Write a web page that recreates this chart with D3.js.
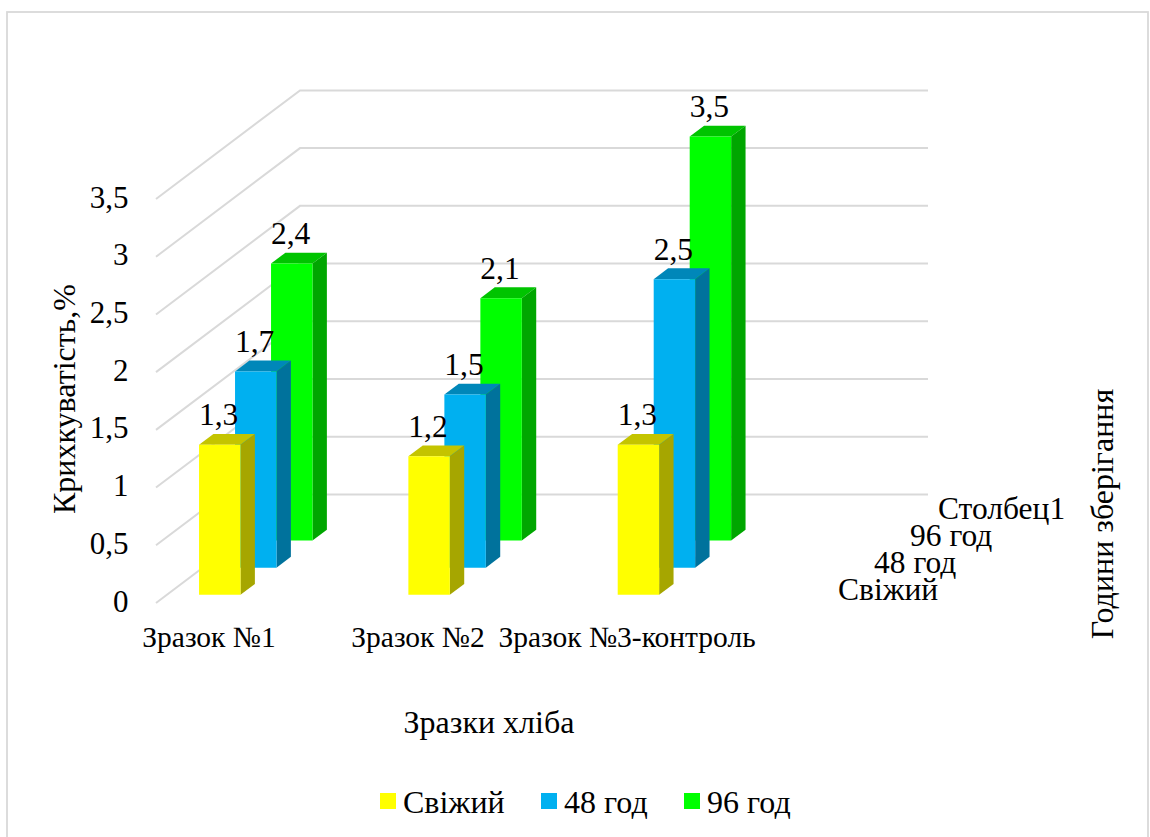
<!DOCTYPE html>
<html>
<head>
<meta charset="utf-8">
<style>
  html, body { margin: 0; padding: 0; background: #fff; }
  svg { display: block; }
  text { font-family: "Liberation Serif", "Times New Roman", serif; fill: #000; }
</style>
<script src="https://cdn.jsdelivr.net/npm/d3@7"></script>
</head>
<body>
<svg id="chart" width="1150" height="837"></svg>
<script>
// Bread crumbliness by sample and storage time
const samples = ["Зразок №1", "Зразок №2", "Зразок №3-контроль"];
const fresh = [1.3, 1.2, 1.3];
const hours48 = [1.7, 1.5, 2.5];
const hours96 = [2.4, 2.1, 3.5];
const seriesNames = ["Свіжий", "48 год", "96 год"];
const depthLabels = ["Свіжий", "48 год", "96 год", "Столбец1"];
const valueTicks = [0, 0.5, 1, 1.5, 2, 2.5, 3, 3.5];
const frontColors = ["#ffff00", "#00b0f0", "#00ff00"];
const topColors = ["#c4c400", "#0087b9", "#00c400"];
const sideColors = ["#a6a600", "#00729c", "#00a600"];

const svg = d3.select("#chart");
const comma = v => String(v).replace(".", ",");

// Oblique projection: sample on x, value on y, storage slot as depth
const x = d3.scaleBand().domain(samples).range([156, 784]);
const y = d3.scaleLinear().domain([0, 3.5]).range([603, 199]);
const depthX = d3.scaleLinear().domain([0, 4]).range([0, 144]);
const depthY = d3.scaleLinear().domain([0, 4]).range([0, -108.6]);
const project = (px, value, d) => [px + depthX(d), y(value) + depthY(d)];
const sampleLabelX = d3.scalePoint().domain(samples).range([209, 627]);

const gridColor = "#d9d9d9";
const grid = svg.append("g").attr("fill", "none").attr("stroke", gridColor).attr("stroke-width", 2);

svg.append("rect")
  .attr("x", 7).attr("y", 12).attr("width", 1141).attr("height", 840)
  .attr("fill", "none").attr("stroke", gridColor).attr("stroke-width", 1.8);

// Side wall and back wall gridlines
valueTicks.forEach(v => {
  const a = project(x.range()[0], v, 0);
  const b = project(x.range()[0], v, 4);
  const c = project(x.range()[1], v, 4);
  grid.append("path").attr("d", d3.line()([a, b, c]));
});

// Bars, back row first so nearer rows overlap them
const rows = [fresh, hours48, hours96];
const barOffset = x.bandwidth() * 0.154;
const barWidth = x.bandwidth() * 0.198;
const slotNear = 0.3, slotFar = 0.7;
const bars = svg.append("g");

d3.range(rows.length).reverse().forEach(i => {
  samples.forEach((s, j) => {
    const v = rows[i][j];
    const x0 = x(s) + barOffset, x1 = x0 + barWidth;
    const near = i + slotNear, far = i + slotFar;
    const poly = pts => pts.join(" ");
    const g = bars.append("g");
    g.append("polygon").attr("fill", topColors[i]).attr("points", poly([
      project(x0, v, near), project(x1, v, near), project(x1, v, far), project(x0, v, far)
    ]));
    g.append("polygon").attr("fill", sideColors[i]).attr("points", poly([
      project(x1, 0, near), project(x1, v, near), project(x1, v, far), project(x1, 0, far)
    ]));
    g.append("polygon").attr("fill", frontColors[i]).attr("points", poly([
      project(x0, 0, near), project(x1, 0, near), project(x1, v, near), project(x0, v, near)
    ]));
    const top = project(x0 + barWidth / 2, v, far);
    g.append("text")
      .attr("x", top[0] - 15.5).attr("y", top[1] - 8.5)
      .attr("text-anchor", "middle").attr("font-size", 31.5)
      .text(comma(v));
  });
});

// Value axis tick labels
const valueAxis = svg.append("g").attr("text-anchor", "end").attr("font-size", 31);
valueAxis.selectAll("text").data(valueTicks).join("text")
  .attr("x", 128.5).attr("y", d => y(d) + 8.5)
  .text(comma);

// Sample labels
svg.append("g").attr("text-anchor", "middle").attr("font-size", 29.5)
  .selectAll("text").data(samples).join("text")
  .attr("x", d => sampleLabelX(d)).attr("y", 647)
  .text(d => d);

// Depth axis labels
svg.append("g").attr("font-size", 31.5)
  .selectAll("text").data(depthLabels).join("text")
  .attr("x", (d, i) => 838 + depthX(i) - (i === 3 ? 8 : 0))
  .attr("y", (d, i) => 600 + depthY(i))
  .text(d => d);

// Axis titles
svg.append("text").attr("text-anchor", "middle").attr("font-size", 32)
  .attr("x", 489).attr("y", 733).text("Зразки хліба");
svg.append("text").attr("text-anchor", "middle").attr("font-size", 32)
  .attr("transform", "translate(75,399) rotate(-90)").text("Крихкуватість,%");
svg.append("text").attr("text-anchor", "middle").attr("font-size", 32)
  .attr("transform", "translate(1113,514) rotate(-90)").text("Години зберігання");

// Legend
const legendX = d3.scaleOrdinal().domain(seriesNames).range([380, 541, 684]);
const legend = svg.append("g").selectAll("g").data(seriesNames).join("g")
  .attr("transform", d => `translate(${legendX(d)},793)`);
legend.append("rect").attr("width", 16).attr("height", 16).attr("fill", (d, i) => frontColors[i]);
legend.append("text").attr("x", 23).attr("y", 20).attr("font-size", 32).text(d => d);
</script>
</body>
</html>
